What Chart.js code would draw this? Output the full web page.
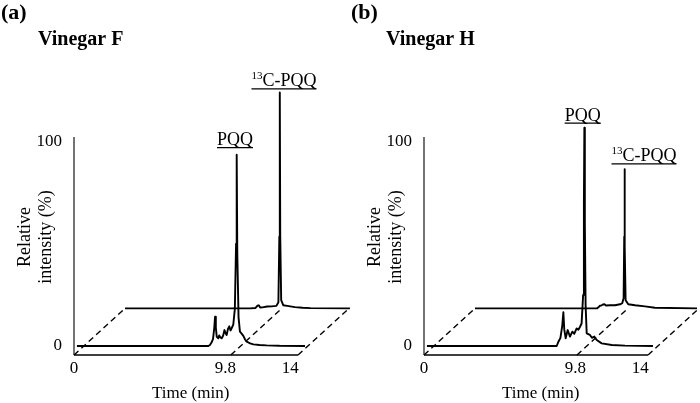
<!DOCTYPE html>
<html><head><meta charset="utf-8">
<script src="https://cdn.jsdelivr.net/npm/chart.js@4.4.1/dist/chart.umd.min.js"></script>
<style>
html,body{margin:0;padding:0;background:#fff;}
#wrap{position:relative;width:700px;height:403px;overflow:hidden;}
.panel{position:absolute;top:0;width:350px;height:403px;}
</style></head><body>
<div id="wrap">
<div class="panel" style="left:0"><canvas id="cF" width="350" height="403"></canvas></div>
<div class="panel" style="left:350px"><canvas id="cH" width="350" height="403"></canvas></div>
</div>
<script>
// ---- tick labels ----
const X_TICKS = [0, 9.8, 14];
const X_TICK_LABELS = ['0', '9.8', '14'];
const Y_TICKS = [0, 100];
const Y_TICK_LABELS = ['0', '100'];
const X_TITLE = 'Time (min)';
const Y_TITLE = ['Relative', 'intensity (%)'];

// ---- Vinegar F : front trace (PQQ channel), back trace (13C-PQQ channel) ----
const F_FRONT_T = [0.19, 8.70, 8.80, 8.91, 9.00, 9.08, 9.13, 9.18, 9.24, 9.34, 9.40, 9.47, 9.56, 9.65, 9.74, 9.80, 9.88, 9.97, 10.05, 10.13, 10.21, 10.31, 10.41, 10.49, 10.53, 10.57, 10.65, 10.74, 10.85, 10.96, 11.07, 11.18, 11.40, 11.61, 12.00, 12.47, 13.30, 14.95];
const F_FRONT_V = [0, 0, 0.5, 1.8, 3.5, 9, 14.3, 9, 4.5, 3.8, 5.2, 4.2, 3.8, 5, 7.8, 6.5, 5.4, 8.5, 9.6, 7.6, 8.8, 10.5, 18, 50, 93.5, 45, 14, 7, 6, 5, 3.2, 2.1, 1.3, 0.8, 0.5, 0.3, 0.1, 0];
const F_BACK_T = [0, 8.10, 8.45, 8.58, 8.66, 8.75, 8.90, 9.20, 9.50, 9.80, 9.93, 9.99, 10.02, 10.05, 10.11, 10.25, 10.50, 11.00, 11.50, 12.00, 14.56];
const F_BACK_V = [0, 0, 0.2, 1.3, 1.5, 0.4, 0.5, 0.9, 1.0, 1.2, 3, 35, 105.6, 35, 4, 1.5, 1.2, 0.6, 0.3, 0.1, 0];

// ---- Vinegar H ----
const H_FRONT_T = [0.19, 8.59, 8.70, 8.83, 8.95, 9.02, 9.08, 9.17, 9.30, 9.45, 9.60, 9.73, 9.88, 9.99, 10.10, 10.20, 10.30, 10.35, 10.38, 10.41, 10.46, 10.53, 10.74, 10.87, 11.02, 11.18, 11.50, 12.15, 13.01, 14.82];
const H_FRONT_V = [0, 0, 2.1, 4, 10, 16.5, 8, 3.8, 7.8, 4.6, 7.0, 6, 8.6, 8, 9.4, 11, 25, 70, 106.7, 60, 20, 6.2, 5.4, 4, 4.6, 2.9, 1.3, 0.5, 0.2, 0];
const H_BACK_T = [0, 7.90, 7.99, 8.09, 8.20, 8.28, 8.38, 8.48, 8.74, 9.06, 9.39, 9.53, 9.62, 9.66, 9.68, 9.70, 9.75, 9.92, 10.36, 11.00, 11.65, 14.37];
const H_BACK_V = [0, 0, 0.5, 1.3, 1.5, 1.9, 2.0, 1.4, 1.5, 1.5, 2.0, 2.5, 5, 35, 68, 30, 4, 2.0, 1.5, 1.0, 0.3, 0];

// ---- layout / perspective constants (scale ranges) ----
const X_MAX = 17.864;      // right edge of plot area (min)
const FLOOR_END = 14.5;    // end of time axis line
const T_DEPTH = 3.30;      // horizontal shift of back trace (min)
const Y_MIN = -4.4;        // floor front edge (intensity units)
const Y_MAX = 111.0;
const AXIS_TOP = 102.2;    // top of intensity axis line
const BACK_ZERO = 18.4;    // where back trace baseline sits on front scale
const SERIF = '"Liberation Serif", "Times New Roman", Times, serif';

const PANELS = [
  { canvas: 'cF', letter: '(a)', name: 'Vinegar F',
    frontT: F_FRONT_T, frontV: F_FRONT_V, backT: F_BACK_T, backV: F_BACK_V,
    divider: 10.15,
    labels: [ { sup: '', text: 'PQQ', t: 10.42, v: 97.2 },
              { sup: '13', text: 'C-PQQ', t: 13.59, v: 126.0 } ] },
  { canvas: 'cH', letter: '(b)', name: 'Vinegar H',
    frontT: H_FRONT_T, frontV: H_FRONT_V, backT: H_BACK_T, backV: H_BACK_V,
    divider: 9.9,
    labels: [ { sup: '', text: 'PQQ', t: 10.27, v: 109.2 },
              { sup: '13', text: 'C-PQQ', t: 14.24, v: 89.3 } ] }
];

const floorPlugin = {
  id: 'floor',
  beforeDatasetsDraw(chart) {
    const p = chart.options.plugins.floor;
    const { ctx } = chart;
    const { x, y, x2, y2 } = chart.scales;
    ctx.save();
    ctx.strokeStyle = '#000';
    // intensity axis
    ctx.lineWidth = 1.1;
    ctx.beginPath();
    ctx.moveTo(x.getPixelForValue(0), y.getPixelForValue(Y_MIN));
    ctx.lineTo(x.getPixelForValue(0), y.getPixelForValue(AXIS_TOP));
    ctx.stroke();
    // time axis (front floor edge)
    ctx.lineWidth = 1.5;
    ctx.beginPath();
    ctx.moveTo(x.getPixelForValue(0), y.getPixelForValue(Y_MIN));
    ctx.lineTo(x.getPixelForValue(FLOOR_END), y.getPixelForValue(Y_MIN));
    ctx.stroke();
    // dashed depth lines
    ctx.lineWidth = 1.4;
    ctx.setLineDash([6, 4]);
    [0, p.divider, FLOOR_END].forEach(t => {
      ctx.beginPath();
      ctx.moveTo(x.getPixelForValue(t), y.getPixelForValue(Y_MIN));
      ctx.lineTo(x2.getPixelForValue(t), y2.getPixelForValue(0));
      ctx.stroke();
    });
    ctx.restore();
  },
  afterDraw(chart) {
    const p = chart.options.plugins.floor;
    const { ctx } = chart;
    const { x, y } = chart.scales;
    ctx.save();
    ctx.fillStyle = '#000';
    ctx.strokeStyle = '#000';
    ctx.textBaseline = 'alphabetic';
    ctx.textAlign = 'left';
    ctx.font = 'bold 22px ' + SERIF;
    ctx.fillText(p.letter, 1, 19);
    ctx.font = 'bold 20px ' + SERIF;
    ctx.fillText(p.name, p.letter === '(a)' ? 38 : 36, 45);
    // x axis title
    ctx.font = '17px ' + SERIF;
    ctx.textAlign = 'center';
    ctx.fillText(X_TITLE, x.getPixelForValue(7.55), 398);
    // peak labels
    ctx.textAlign = 'left';
    p.labels.forEach(l => {
      const cx = x.getPixelForValue(l.t);
      const uy = y.getPixelForValue(l.v);
      ctx.font = '11px ' + SERIF;
      const sw = l.sup ? ctx.measureText(l.sup).width : 0;
      ctx.font = '18px ' + SERIF;
      const mw = ctx.measureText(l.text).width;
      const w = sw + mw;
      const left = cx - w / 2;
      if (l.sup) {
        ctx.font = '11px ' + SERIF;
        ctx.fillText(l.sup, left, uy - 9.5);
      }
      ctx.font = '18px ' + SERIF;
      ctx.fillText(l.text, left + sw, uy - 2);
      ctx.lineWidth = 1.2;
      ctx.beginPath();
      ctx.moveTo(left, uy + 0.5);
      ctx.lineTo(left + w, uy + 0.5);
      ctx.stroke();
    });
    ctx.restore();
  }
};

function traceDataset(ts, vs, xId, yId) {
  return {
    data: ts.map((t, i) => ({ x: t, y: vs[i] })),
    xAxisID: xId, yAxisID: yId,
    showLine: true, pointRadius: 0, borderColor: '#000', borderWidth: 1.9,
    borderJoinStyle: 'round', fill: false, clip: false, tension: 0
  };
}

PANELS.forEach(p => {
  new Chart(document.getElementById(p.canvas), {
    type: 'scatter',
    data: {
      datasets: [
        traceDataset(p.backT, p.backV, 'x2', 'y2'),
        traceDataset(p.frontT, p.frontV, 'x', 'y')
      ]
    },
    options: {
      responsive: false,
      animation: false,
      devicePixelRatio: 1,
      layout: { padding: { top: 119, left: 0, right: 0, bottom: 0 } },
      plugins: {
        legend: { display: false },
        tooltip: { enabled: false },
        floor: { letter: p.letter, name: p.name, divider: p.divider, labels: p.labels }
      },
      scales: {
        x: {
          type: 'linear', position: 'bottom', min: 0, max: X_MAX,
          grid: { display: false, drawTicks: false }, border: { display: false },
          afterFit: s => { s.height = 48; },
          afterBuildTicks: s => { s.ticks = X_TICKS.map(v => ({ value: v })); },
          ticks: { color: '#000', font: { family: SERIF, size: 17 }, padding: 3,
                   autoSkip: false, maxRotation: 0,
                   callback: (v, i) => X_TICK_LABELS[i] }
        },
        y: {
          type: 'linear', position: 'left', min: Y_MIN, max: Y_MAX,
          grid: { display: false, drawTicks: false }, border: { display: false },
          afterFit: s => { s.width = 74; },
          afterBuildTicks: s => { s.ticks = Y_TICKS.map(v => ({ value: v })); },
          ticks: { color: '#000', font: { family: SERIF, size: 17 }, padding: 12,
                   autoSkip: false, callback: (v, i) => Y_TICK_LABELS[i] },
          title: { display: true, text: Y_TITLE, color: '#000',
                   font: { family: SERIF, size: 18 }, padding: { top: 14, bottom: 0 } }
        },
        x2: { type: 'linear', display: false, min: -T_DEPTH, max: X_MAX - T_DEPTH },
        y2: { type: 'linear', display: false, min: Y_MIN - BACK_ZERO, max: Y_MAX - BACK_ZERO }
      }
    },
    plugins: [floorPlugin]
  });
});
</script>
</body></html>
